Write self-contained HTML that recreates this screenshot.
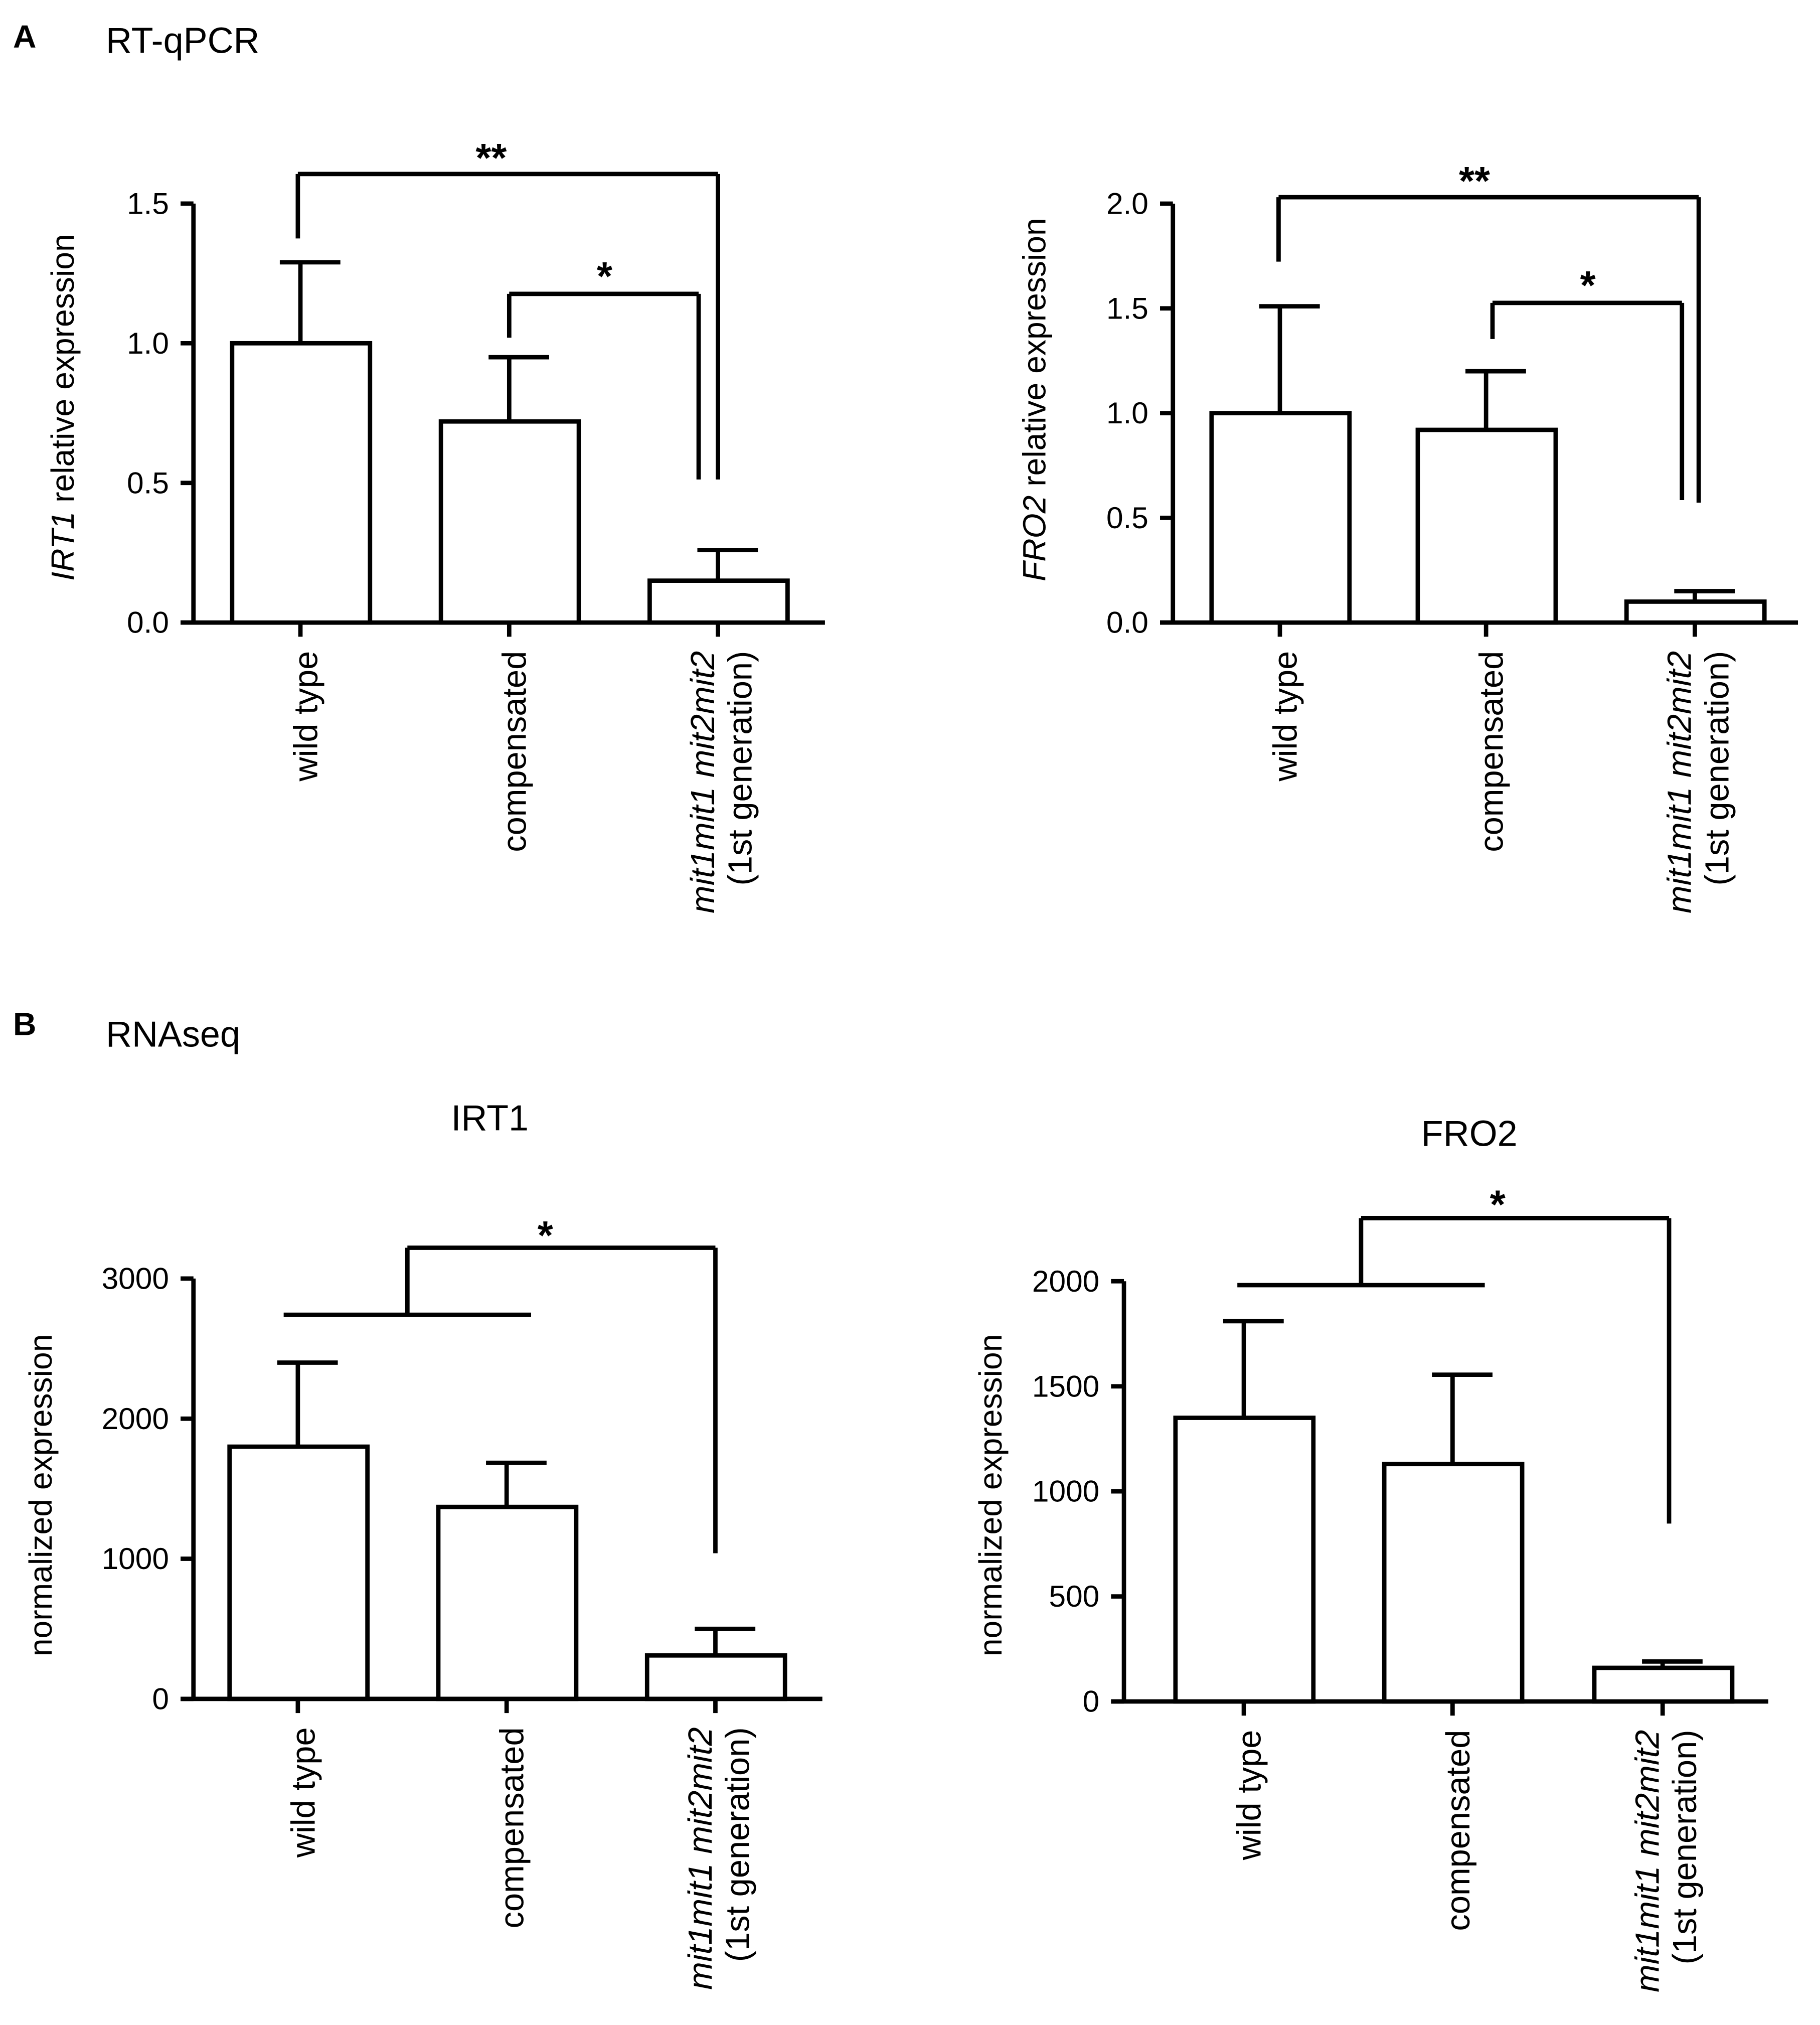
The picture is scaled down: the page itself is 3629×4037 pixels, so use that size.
<!DOCTYPE html>
<html><head><meta charset="utf-8"><style>
html,body{margin:0;padding:0;background:#fff}
svg{display:block}
text{font-family:"Liberation Sans",Arial,sans-serif;fill:#000}
</style></head><body>
<svg id="fig" width="3629" height="4037" viewBox="0 0 1412 1571" xmlns="http://www.w3.org/2000/svg">
<rect width="1412" height="1571" fill="#fff"/>
<text x="10" y="37" font-size="25" font-weight="bold">A</text>
<text x="82" y="41" font-size="28">RT-qPCR</text>
<text x="10" y="803" font-size="25" font-weight="bold">B</text>
<text x="82" y="812" font-size="28">RNAseq</text>
<text x="380" y="877" font-size="28" text-anchor="middle">IRT1</text>
<text x="1140" y="889" font-size="28" text-anchor="middle">FRO2</text>
</svg>
<script>
// Data arrays
var categories = ["wild type", "compensated", "mit1mit1 mit2mit2"];
var a1Values = [1.0, 0.72, 0.15];
var a1Errors = [1.29, 0.95, 0.26];
var a1Ticks = ["0.0", "0.5", "1.0", "1.5"];
var a1TickVals = [0, 0.5, 1.0, 1.5];
var a2Values = [1.0, 0.92, 0.10];
var a2Errors = [1.51, 1.20, 0.15];
var a2Ticks = ["0.0", "0.5", "1.0", "1.5", "2.0"];
var a2TickVals = [0, 0.5, 1.0, 1.5, 2.0];
var b1Values = [1800, 1370, 310];
var b1Errors = [2400, 1685, 500];
var b1Ticks = ["0", "1000", "2000", "3000"];
var b1TickVals = [0, 1000, 2000, 3000];
var b2Values = [1350, 1130, 160];
var b2Errors = [1810, 1555, 190];
var b2Ticks = ["0", "500", "1000", "1500", "2000"];
var b2TickVals = [0, 500, 1000, 1500, 2000];

var NS = "http://www.w3.org/2000/svg";
var svg = document.getElementById("fig");
function el(tag, attrs, parent) {
  var e = document.createElementNS(NS, tag);
  for (var k in attrs) e.setAttribute(k, attrs[k]);
  (parent || svg).appendChild(e);
  return e;
}
function line(g, x1, y1, x2, y2, name) {
  var l = el("line", {x1: x1, y1: y1, x2: x2, y2: y2, stroke: "#000", "stroke-width": 3.4}, g);
  
  
  return l;
}

function chart(cfg) {
  var g = el("g", {});
  
  
  function y(v) { return cfg.y0 - (v - 0) * cfg.pxPerUnit; }
  line(g, cfg.ax, y(cfg.tickVals[cfg.tickVals.length - 1]), cfg.ax, cfg.y0, "y-axis");
  cfg.tickVals.forEach(function (tv, i) {
    line(g, cfg.ax - 10, y(tv), cfg.ax, y(tv), "y-tick");
    var t = el("text", {x: cfg.ax - 19, y: y(tv) + 8, "font-size": 23.5, "text-anchor": "end"}, g);
    
    
    t.textContent = cfg.ticks[i];
  });
  line(g, cfg.ax - 10, cfg.y0, cfg.axEnd, cfg.y0, "x-axis");
  var yl = el("text", {transform: "translate(" + cfg.ylx + "," + cfg.yly + ") rotate(-90)", "font-size": 25, "text-anchor": "middle"}, g);
  
  
  if (cfg.italic) {
    var ts = el("tspan", {"font-style": "italic"}, yl); ts.textContent = cfg.italic;
    var ts2 = el("tspan", {}, yl); ts2.textContent = " relative expression";
  } else yl.textContent = "normalized expression";
  cfg.values.forEach(function (v, i) {
    var c = cfg.centers[i];
    var r = el("rect", {x: c - 53, y: y(v), width: 107, height: cfg.y0 - y(v), fill: "#fff", stroke: "#000", "stroke-width": 3.4}, g);
    
    
    line(g, c, y(v), c, y(cfg.errors[i]), "error-bar");
    line(g, c - 16, y(cfg.errors[i]), c + 31, y(cfg.errors[i]), "error-cap");
    line(g, c, cfg.y0, c, cfg.y0 + 11, "x-tick");
    var ly = cfg.y0 + 22;
    var t = el("text", {transform: "translate(" + (c + 13) + "," + ly + ") rotate(-90)", "font-size": 26, "text-anchor": "end"}, g);
    
    
    if (i < 2) t.textContent = categories[i];
    else {
      t.setAttribute("transform", "translate(" + (c - 3) + "," + ly + ") rotate(-90)");
      var a = el("tspan", {x: 0, dy: 0, "font-style": "italic"}, t); a.textContent = categories[i];
      var b = el("tspan", {x: 0, dy: 29}, t); b.textContent = "(1st generation)";
    }
  });
  cfg.brackets.forEach(function (b) {
    b.lines.forEach(function (l) { line(g, l[0], l[1], l[2], l[3], "significance-bracket"); });
    var s = el("text", {x: b.sx, y: b.sy, "font-size": 31, "font-weight": "bold", "text-anchor": "middle"}, g);
    
    
    s.textContent = b.label;
  });
}

chart({name: "chart-a1-irt1", ax: 150, axEnd: 640, y0: 483, pxPerUnit: 216.7, values: a1Values, errors: a1Errors,
  ticks: a1Ticks, tickVals: a1TickVals, centers: [233, 395, 557], ylx: 57, yly: 316, italic: "IRT1",
  brackets: [
    {lines: [[231, 135, 557, 135], [231, 135, 231, 185], [557, 135, 557, 372]], sx: 381, sy: 133, label: "**"},
    {lines: [[395, 228, 542, 228], [395, 228, 395, 262], [542, 228, 542, 372]], sx: 469, sy: 225, label: "*"}
  ]});
chart({name: "chart-a2-fro2", ax: 910, axEnd: 1395, y0: 483, pxPerUnit: 162.5, values: a2Values, errors: a2Errors,
  ticks: a2Ticks, tickVals: a2TickVals, centers: [993, 1153, 1315], ylx: 811, yly: 310, italic: "FRO2",
  brackets: [
    {lines: [[992, 153, 1318, 153], [992, 153, 992, 203], [1318, 153, 1318, 390]], sx: 1144, sy: 151, label: "**"},
    {lines: [[1158, 235, 1305, 235], [1158, 235, 1158, 263], [1305, 235, 1305, 388]], sx: 1232, sy: 232, label: "*"}
  ]});
chart({name: "chart-b1-irt1", ax: 150, axEnd: 638, y0: 1318, pxPerUnit: 0.1087, values: b1Values, errors: b1Errors,
  ticks: b1Ticks, tickVals: b1TickVals, centers: [231, 393, 555], ylx: 40, yly: 1160, italic: null,
  brackets: [
    {lines: [[220, 1020, 412, 1020], [316, 968, 316, 1020], [316, 968, 555, 968], [555, 968, 555, 1205]], sx: 423, sy: 969, label: "*"}
  ]});
chart({name: "chart-b2-fro2", ax: 872, axEnd: 1372, y0: 1320, pxPerUnit: 0.163, values: b2Values, errors: b2Errors,
  ticks: b2Ticks, tickVals: b2TickVals, centers: [965, 1127, 1290], ylx: 777, yly: 1160, italic: null,
  brackets: [
    {lines: [[960, 997, 1152, 997], [1056, 945, 1056, 997], [1056, 945, 1295, 945], [1295, 945, 1295, 1182]], sx: 1162, sy: 945, label: "*"}
  ]});
</script>
</body></html>
